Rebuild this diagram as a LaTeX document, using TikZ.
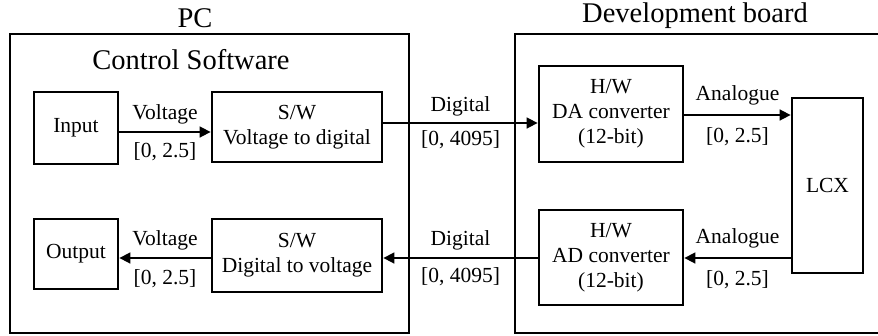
\documentclass[tikz,border=0pt]{standalone}
\usepackage{fontspec}
\setmainfont{Liberation Serif}
\usetikzlibrary{arrows.meta}
\begin{document}
\begin{tikzpicture}[x=1pt,y=-1pt,
  blk/.style={draw, line width=2.8pt, align=center, inner sep=0pt,
    font=\fontsize{21.5}{25}\selectfont},
  grp/.style={draw, line width=1.6pt},
  ttl/.style={font=\fontsize{28.5}{32}\selectfont, inner sep=0pt},
  lbl/.style={font=\fontsize{21.5}{25}\selectfont, inner sep=0pt},
  arr/.style={line width=1.6pt, -{Triangle[length=11pt,width=11pt]}}]
\useasboundingbox (0,0) rectangle (878,335);
% group frames
\draw[grp] (10,34) rectangle (409,333);
\draw[grp] (515,34) rectangle (880,333);
\node[ttl] (pc) at (195,18) {PC};
\node[ttl] (dev) at (695,16) {Development board};
\node[ttl] (cs) at (191,60) {Control Software};
% blocks
\node[blk, minimum width=84pt, minimum height=72pt] (in) at (76,128) {Input};
\node[blk, minimum width=170pt, minimum height=70pt] (sw1) at (297,127) {S/W\\Voltage to digital};
\node[blk, minimum width=84pt, minimum height=70pt] (out) at (76,254) {Output};
\node[blk, minimum width=170pt, minimum height=73pt] (sw2) at (297,255.5) {S/W\\Digital to voltage};
\node[blk, minimum width=144pt, minimum height=96pt] (da) at (611,114) {H/W\\DA converter\\(12-bit)};
\node[blk, minimum width=144pt, minimum height=95pt] (ad) at (611,257.5) {H/W\\AD converter\\(12-bit)};
\node[blk, minimum width=71pt, minimum height=175pt] (lcx) at (827.5,185.5) {LCX};
% connectors
\coordinate (y1) at (0,132);
\coordinate (y0) at (0,123);
\coordinate (y2) at (0,258);
\coordinate (y3) at (0,115);
\draw[arr] (in.east |- y1) -- (sw1.west |- y1)
  node[lbl, midway, yshift=18pt] {Voltage}
  node[lbl, midway, yshift=-20pt] {[0, 2.5]};
\draw[arr] (sw1.east |- y0) -- (da.west |- y0)
  node[lbl, midway, yshift=17pt] {Digital}
  node[lbl, midway, yshift=-17pt] {[0, 4095]};
\draw[arr] (da.east |- y3) -- (lcx.west |- y3)
  node[lbl, midway, yshift=20pt] {Analogue}
  node[lbl, midway, yshift=-22pt] {[0, 2.5]};
\draw[arr] (lcx.west |- y2) -- (ad.east |- y2)
  node[lbl, midway, yshift=20pt] {Analogue}
  node[lbl, midway, yshift=-22pt] {[0, 2.5]};
\draw[arr] (ad.west |- y2) -- (sw2.east |- y2)
  node[lbl, midway, yshift=18pt] {Digital}
  node[lbl, midway, yshift=-19pt] {[0, 4095]};
\draw[arr] (sw2.west |- y2) -- (out.east |- y2)
  node[lbl, midway, yshift=18pt] {Voltage}
  node[lbl, midway, yshift=-21pt] {[0, 2.5]};
\end{tikzpicture}
\end{document}
